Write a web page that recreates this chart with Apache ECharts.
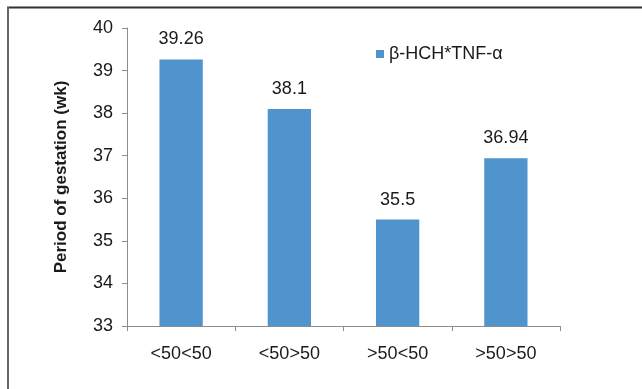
<!DOCTYPE html>
<html>
<head>
<meta charset="utf-8">
<script src="https://cdn.jsdelivr.net/npm/echarts@6/dist/echarts.min.js"></script>
<style>
  html, body { margin: 0; padding: 0; background: #fff; }
  #chart { width: 642px; height: 389px; }
</style>
</head>
<body>
<div id="chart"></div>
<script>
// Gestation period by β-HCH / TNF-α exposure group
const categories = ['<50<50', '<50>50', '>50<50', '>50>50'];
const gestationWeeks = [39.26, 38.1, 35.5, 36.94];
const yTicks = [33, 34, 35, 36, 37, 38, 39, 40];
const seriesName = 'β-HCH*TNF-α';

const chart = echarts.init(document.getElementById('chart'), null, { renderer: 'canvas' });
const font = 'Liberation Sans, Arial, sans-serif';
const axisGray = '#8c8c8c';
const ink = '#1a1a1a';

chart.setOption({
  animation: false,
  textStyle: { fontFamily: font },
  grid: { left: 127, right: 82, top: 28, bottom: 63 },
  legend: {
    data: [seriesName],
    left: 371, top: 40,
    icon: 'rect', itemWidth: 8, itemHeight: 8, itemGap: 5,
    textStyle: { fontSize: 18, color: ink, fontFamily: font }
  },
  xAxis: {
    type: 'category',
    data: categories,
    axisLine: { lineStyle: { color: axisGray, width: 1 } },
    axisTick: { show: true, length: 5, alignWithLabel: false, lineStyle: { color: axisGray } },
    axisLabel: { fontSize: 18, color: ink, margin: 19 }
  },
  yAxis: {
    type: 'value',
    min: yTicks[0],
    max: yTicks[yTicks.length - 1],
    interval: 1,
    name: 'Period of gestation (wk)',
    nameLocation: 'middle',
    nameGap: 57,
    nameTextStyle: { fontSize: 17, fontWeight: 'bold', color: ink },
    axisLine: { show: true, lineStyle: { color: axisGray, width: 1 } },
    axisTick: { show: true, length: 5, lineStyle: { color: axisGray } },
    axisLabel: { fontSize: 18, color: ink, margin: 14 },
    splitLine: { show: false }
  },
  series: [{
    name: seriesName,
    type: 'bar',
    data: gestationWeeks,
    barWidth: '40%',
    itemStyle: { color: '#4f94cc' },
    label: {
      show: true, position: 'top', distance: 11,
      fontSize: 18, color: ink,
      formatter: p => String(p.value)
    }
  }],
  graphic: [
    { type: 'line', shape: { x1: 7, y1: 7.5, x2: 642, y2: 7.5 }, style: { stroke: '#333', lineWidth: 2 } },
    { type: 'line', shape: { x1: 8, y1: 7, x2: 8, y2: 389 }, style: { stroke: '#666', lineWidth: 2 } }
  ]
});
</script>
</body>
</html>
